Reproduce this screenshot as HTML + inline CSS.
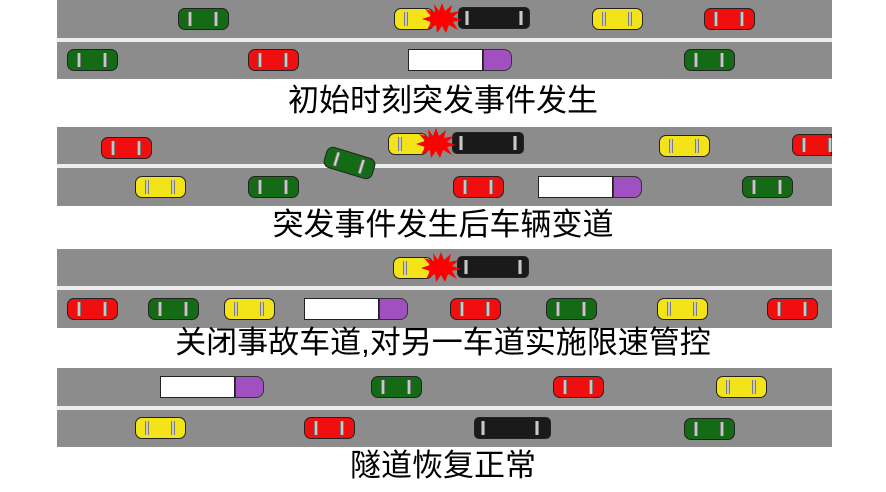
<!DOCTYPE html>
<html><head><meta charset="utf-8"><style>
body{margin:0;width:886px;height:492px;background:#fff;position:relative;overflow:hidden;font-family:"Liberation Sans","WenQuanYi Zen Hei","Noto Sans CJK SC",sans-serif}
.road{position:absolute;left:57px;width:775px;background:#8c8c8c}
.line{position:absolute;left:57px;width:775px;height:4px;background:#eee}
.c{position:absolute;width:51px;height:22px;border-radius:7px;border:1px solid #222;box-sizing:border-box}
.c::before,.c::after{content:"";position:absolute;top:3px;width:4px;height:14px;background:linear-gradient(90deg,#555,#eee,#555)}
.c::before{left:9px}.c::after{left:35px}
.g{background:#156b15}.r{background:#f00e0e}.y{background:#f3e41a}.k{background:#1a1a1a}
.k{width:72px;border-radius:5px}
.k::before{left:6px}.k::after{left:60px}
.t{position:absolute;height:22px}
.t .w{position:absolute;left:0;top:0;width:75px;height:22px;background:#fff;border:1px solid #222;box-sizing:border-box}
.t .p{position:absolute;left:75px;top:0;width:29px;height:22px;background:#a050c0;border:1px solid #333;box-sizing:border-box;border-radius:0 8px 8px 0}
.cap{position:absolute;left:0;width:886px;text-align:center;font-size:31px;color:#000;line-height:34px}
.b{position:absolute;width:40px;height:30px}
</style></head><body>
<div class="road" style="top:0;height:79px"></div><div class="line" style="top:38px"></div>
<div class="road" style="top:127px;height:79px"></div><div class="line" style="top:164px"></div>
<div class="road" style="top:249px;height:79px"></div><div class="line" style="top:286px"></div>
<div class="road" style="top:368px;height:79px"></div><div class="line" style="top:406px"></div>

<!-- P1 -->
<div class="c g" style="left:178px;top:8px"></div>
<div class="c y" style="left:394px;top:8px;width:40px"></div>
<div class="c k" style="left:458px;top:7px"></div>
<svg class="b" style="left:422px;top:3px" viewBox="0 0 40 30"><polygon fill="#f00" points="20,0 23,8 30,2 28,10 38,8 31,14 40,17 31,19 36,27 27,22 24,30 20,23 15,30 14,22 5,27 9,19 0,16 9,13 3,6 13,9 12,1 17,8"/></svg>
<div class="c y" style="left:592px;top:8px"></div>
<div class="c r" style="left:704px;top:8px"></div>
<div class="c g" style="left:67px;top:49px"></div>
<div class="c r" style="left:248px;top:49px"></div>
<div class="t" style="left:408px;top:49px"><div class="w"></div><div class="p"></div></div>
<div class="c g" style="left:684px;top:49px"></div>
<div class="cap" style="top:84px">初始时刻突发事件发生</div>

<!-- P2 -->
<div class="c r" style="left:101px;top:137px"></div>
<div class="c y" style="left:388px;top:133px;width:40px"></div>
<div class="c k" style="left:452px;top:132px"></div>
<svg class="b" style="left:416px;top:128px" viewBox="0 0 40 30"><polygon fill="#f00" points="20,0 23,8 30,2 28,10 38,8 31,14 40,17 31,19 36,27 27,22 24,30 20,23 15,30 14,22 5,27 9,19 0,16 9,13 3,6 13,9 12,1 17,8"/></svg>
<div class="c g" style="left:324px;top:152px;transform:rotate(17deg)"></div>
<div class="c y" style="left:659px;top:135px"></div>
<div class="c r" style="left:792px;top:134px;width:40px;border-radius:7px 0 0 7px"></div>
<div class="c y" style="left:135px;top:176px"></div>
<div class="c g" style="left:248px;top:176px"></div>
<div class="c r" style="left:453px;top:176px"></div>
<div class="t" style="left:538px;top:176px"><div class="w"></div><div class="p"></div></div>
<div class="c g" style="left:742px;top:176px"></div>
<div class="cap" style="top:208px">突发事件发生后车辆变道</div>

<!-- P3 -->
<div class="c y" style="left:393px;top:257px;width:40px"></div>
<div class="c k" style="left:457px;top:256px"></div>
<svg class="b" style="left:421px;top:252px" viewBox="0 0 40 30"><polygon fill="#f00" points="20,0 23,8 30,2 28,10 38,8 31,14 40,17 31,19 36,27 27,22 24,30 20,23 15,30 14,22 5,27 9,19 0,16 9,13 3,6 13,9 12,1 17,8"/></svg>
<div class="c r" style="left:67px;top:298px"></div>
<div class="c g" style="left:148px;top:298px"></div>
<div class="c y" style="left:224px;top:298px"></div>
<div class="t" style="left:304px;top:298px"><div class="w"></div><div class="p"></div></div>
<div class="c r" style="left:450px;top:298px"></div>
<div class="c g" style="left:546px;top:298px"></div>
<div class="c y" style="left:657px;top:298px"></div>
<div class="c r" style="left:767px;top:298px"></div>
<div class="cap" style="top:326px">关闭事故车道,对另一车道实施限速管控</div>

<!-- P4 -->
<div class="t" style="left:160px;top:376px"><div class="w"></div><div class="p"></div></div>
<div class="c g" style="left:371px;top:376px"></div>
<div class="c r" style="left:553px;top:376px"></div>
<div class="c y" style="left:716px;top:376px"></div>
<div class="c y" style="left:135px;top:417px"></div>
<div class="c r" style="left:304px;top:417px"></div>
<div class="c k" style="left:474px;top:417px;width:77px"></div>
<div class="c g" style="left:684px;top:418px"></div>
<div class="cap" style="top:449px">隧道恢复正常</div>
</body></html>
